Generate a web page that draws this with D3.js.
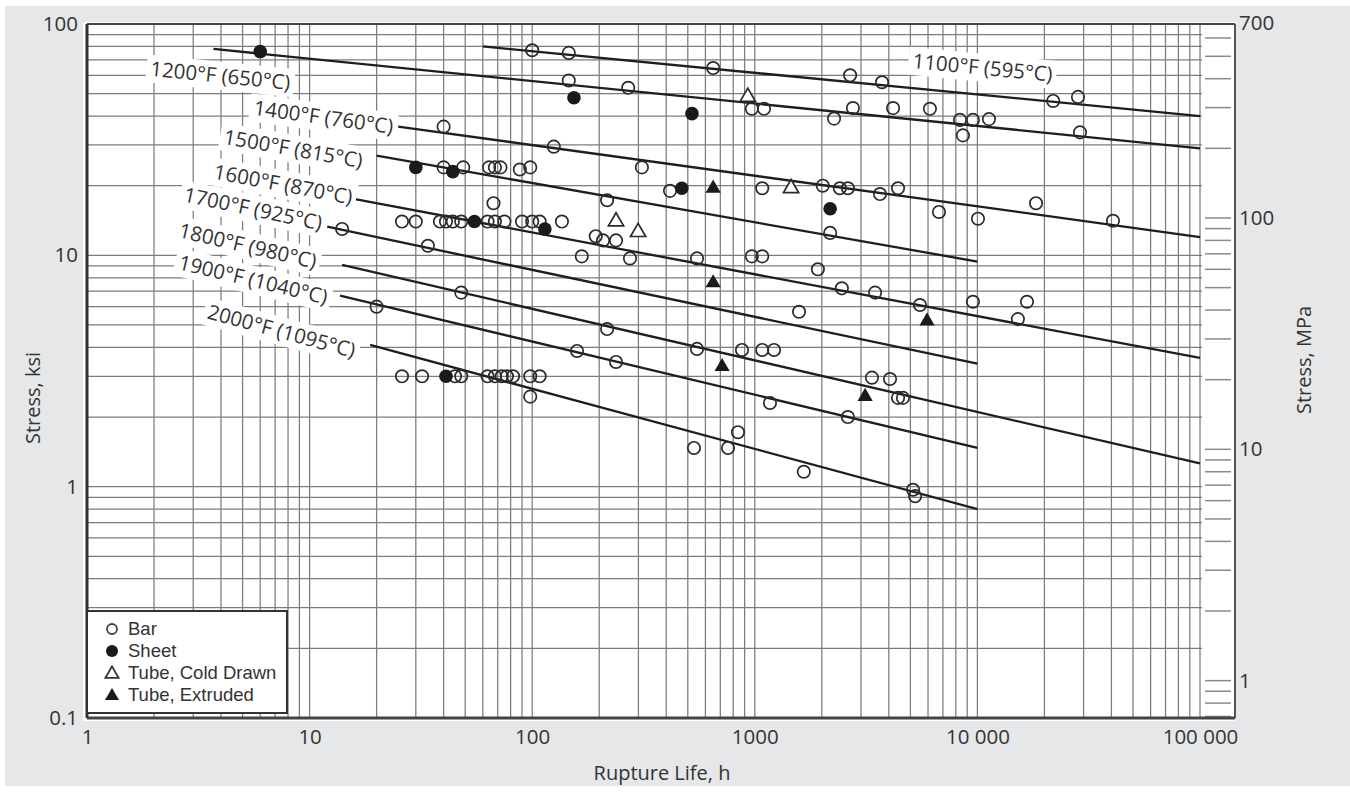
<!DOCTYPE html>
<html lang="en">
<head>
<meta charset="UTF-8">
<title>Stress rupture</title>
<style>
  body { margin: 0; background: #fff; }
  svg text { font-family: "Open Sans", sans-serif; fill: #333; }
</style>
</head>
<body>
<script src="https://d3js.org/d3.v7.min.js"></script>
<script>
// ---- data: rupture life (h) vs stress (ksi) ----
var barHours = [40, 40, 26, 30, 38.5, 41, 44, 48, 14, 34, 20, 26, 32, 45, 48, 63, 68, 73, 77, 82, 98, 108, 98,
    100, 146, 650, 2680, 3730, 21900, 28300, 146, 270, 970, 1100, 2270, 2760, 4180, 6120, 8350, 9550, 11270, 8610, 28900,
    125, 49, 64, 68, 72, 88, 98, 311, 416, 1080, 2020, 2410, 2620, 3650, 4400, 67, 217, 6720, 10060, 18340, 40650,
    63, 68, 75, 90, 100, 108, 136, 193, 208, 238, 2180, 167, 275, 550, 970, 1080, 1920, 2460, 3470, 1580, 48,
    217, 550, 876, 1080, 1220, 159, 238, 3360, 4050, 4400, 4630, 1170, 2620, 840, 533, 758, 1660, 5140, 5250,
    5520, 9550, 16700, 15200];
var barKsi = [36, 24, 14, 14, 14, 14, 14, 14, 13, 11, 6, 3, 3, 3, 3, 3, 3, 3, 3, 3, 3, 3, 2.45,
    77, 75, 64.5, 60, 56, 46.5, 48.4, 57, 53, 43, 43, 39, 43.3, 43.3, 43, 38.5, 38.5, 38.8, 33, 34,
    29.5, 24, 24, 24, 24, 23.5, 24, 24, 19, 19.5, 20, 19.5, 19.5, 18.4, 19.5, 16.8, 17.3, 15.4, 14.4, 16.8, 14.1,
    14, 14, 14, 14, 14, 14, 14, 12.1, 11.6, 11.6, 12.5, 9.9, 9.7, 9.7, 9.9, 9.9, 8.7, 7.2, 6.9, 5.7, 6.9,
    4.8, 3.94, 3.9, 3.9, 3.9, 3.86, 3.46, 2.96, 2.92, 2.42, 2.42, 2.3, 2.0, 1.72, 1.47, 1.47, 1.16, 0.97, 0.91,
    6.1, 6.3, 6.3, 5.3];

var sheetHours = [6, 30, 44, 55, 114, 154, 522, 470, 2180, 41];
var sheetKsi = [76, 24, 23, 14, 13, 48, 41, 19.5, 15.9, 3];

var coldHours = [930, 1455, 238, 299];
var coldKsi = [48.4, 19.5, 14, 12.6];

var extHours = [650, 650, 713, 3130, 5940];
var extKsi = [19.5, 7.6, 3.3, 2.45, 5.2];

// temperature lines: start (h, ksi) -> end (h, ksi)
var tempLabels = ["1100°F (595°C)", "1200°F (650°C)", "1400°F (760°C)", "1500°F (815°C)", "1600°F (870°C)",
    "1700°F (925°C)", "1800°F (980°C)", "1900°F (1040°C)", "2000°F (1095°C)"];
var lineStartH = [60, 3.7, 25, 20, 16, 12, 14, 13.7, 18.7];
var lineStartKsi = [80, 78, 36, 27, 17.5, 13.3, 9.1, 6.7, 4.1];
var lineEndH = [100000, 100000, 100000, 10000, 100000, 10000, 100000, 10000, 10000];
var lineEndKsi = [40, 29, 12, 9.4, 3.6, 3.4, 1.26, 1.47, 0.8];

var xTickLabels = [1, 10, 100, 1000, 10000, 100000];
var yTickLabels = [0.1, 1, 10, 100];
var mpaTickLabels = [1, 10, 100, 700];

// ---- layout ----
var width = 1350, height = 793;
var plotL = 87, plotR = 1200, frameR = 1235, plotT = 24, plotB = 718;

var svg = d3.select("body").append("svg")
    .attr("width", width)
    .attr("height", height);

svg.append("rect").attr("x", 5).attr("y", 6).attr("width", width - 5).attr("height", 780)
    .attr("fill", "#e6e7e8");
svg.append("rect").attr("x", 83).attr("y", 22).attr("width", frameR - 83).attr("height", plotB - 22 + 3)
    .attr("fill", "#fff");

var x = d3.scaleLog().domain([1, 100000]).range([plotL, plotR]);
var y = d3.scaleLog().domain([0.1, 100]).range([plotB, plotT]);
var yMpa = d3.scaleLog().domain([0.1 * 6.895, 100 * 6.895]).range([plotB, plotT]);

// grid
var grid = svg.append("g").attr("stroke", "#7c7c7c").attr("stroke-width", 1.25);
grid.selectAll("line.v").data(x.ticks()).enter().append("line")
    .attr("x1", function (d) { return x(d); }).attr("x2", function (d) { return x(d); })
    .attr("y1", plotT).attr("y2", plotB);
grid.selectAll("line.h").data(y.ticks()).enter().append("line")
    .attr("x1", plotL).attr("x2", plotR + 2)
    .attr("y1", function (d) { return y(d); }).attr("y2", function (d) { return y(d); });

// MPa ticks inside the right strip
var mpaTicks = yMpa.ticks().filter(function (d) { return yMpa(d) > plotT + 3; });
svg.append("g").attr("stroke", "#8a8a8a").attr("stroke-width", 1.5)
    .selectAll("line").data(mpaTicks).enter().append("line")
    .attr("x1", plotR + 5).attr("x2", frameR - 4)
    .attr("y1", function (d) { return yMpa(d); }).attr("y2", function (d) { return yMpa(d); });

// frame
svg.append("line").attr("x1", plotL).attr("x2", frameR).attr("y1", plotT).attr("y2", plotT)
    .attr("stroke", "#444").attr("stroke-width", 2);
svg.append("line").attr("x1", frameR).attr("x2", frameR).attr("y1", plotT).attr("y2", plotB)
    .attr("stroke", "#555").attr("stroke-width", 2);
svg.append("line").attr("x1", plotL).attr("x2", frameR).attr("y1", plotB).attr("y2", plotB)
    .attr("stroke", "#444").attr("stroke-width", 3);
svg.append("line").attr("x1", plotL).attr("x2", plotL).attr("y1", plotT).attr("y2", plotB)
    .attr("stroke", "#333").attr("stroke-width", 3);

// axes labels
var fmt = function (d) { return d >= 10000 ? d3.format(",")(d).replace(/,/g, " ") : String(d); };
var xAxis = svg.append("g").attr("transform", "translate(0," + plotB + ")")
    .call(d3.axisBottom(x).tickValues(xTickLabels).tickSize(0).tickPadding(20).tickFormat(fmt));
var yAxis = svg.append("g").attr("transform", "translate(" + (plotL - 9) + ",0)")
    .call(d3.axisLeft(y).tickValues(yTickLabels).tickSize(0).tickPadding(0).tickFormat(function (d) { return String(d); }));
var rAxis = svg.append("g").attr("transform", "translate(" + (frameR + 4) + ",0)")
    .call(d3.axisRight(yMpa).tickValues(mpaTickLabels).tickSize(0).tickPadding(0).tickFormat(String));
[xAxis, yAxis, rAxis].forEach(function (a) {
    a.select(".domain").remove();
    a.selectAll("text").style("font-size", "20.5px").attr("fill", "#333");
});
xAxis.selectAll("text").attr("dy", "0.3em");

svg.append("text").attr("x", 662).attr("y", 780).attr("text-anchor", "middle")
    .style("font-size", "20px").text("Rupture Life, h");
svg.append("text").attr("transform", "translate(40,398) rotate(-90)").attr("text-anchor", "middle")
    .style("font-size", "20px").text("Stress, ksi");
svg.append("text").attr("transform", "translate(1311,360) rotate(-90)").attr("text-anchor", "middle")
    .style("font-size", "20px").text("Stress, MPa");

// temperature lines
var lines = tempLabels.map(function (t, i) {
    return { t: t, h0: lineStartH[i], s0: lineStartKsi[i], h1: lineEndH[i], s1: lineEndKsi[i] };
});
svg.append("g").selectAll("line").data(lines).enter().append("line")
    .attr("x1", function (d) { return x(d.h0); }).attr("y1", function (d) { return y(d.s0); })
    .attr("x2", function (d) { return x(d.h1); }).attr("y2", function (d) { return y(d.s1); })
    .attr("stroke", "#1e1e1e").attr("stroke-width", 2.3);

// label placement: where along the line, anchor, and pixel nudges
var labelAt = [10270, 4.08, null, null, null, null, null, null, null];
var labelDx = [0, 0, -5, -13, -3, -6, -26, -12, -13];
var labelDy = [-28, 25, 0, 7, -2, -3, 2, 4, 9];

lines.forEach(function (d, i) {
    var ang = Math.atan2(y(d.s1) - y(d.s0), x(d.h1) - x(d.h0));
    var px, py, anchor;
    if (labelAt[i] != null) {
        var f = Math.log10(labelAt[i] / d.h0) / Math.log10(d.h1 / d.h0);
        px = x(labelAt[i]);
        py = y(d.s0) + f * (y(d.s1) - y(d.s0));
        anchor = "middle";
    } else {
        px = x(d.h0);
        py = y(d.s0);
        anchor = "end";
    }
    var g = svg.append("g")
        .attr("transform", "translate(" + px + "," + py + ") rotate(" + (ang * 180 / Math.PI) + ")");
    var bg = g.append("rect").attr("fill", "#fff");
    var txt = g.append("text").attr("x", labelDx[i]).attr("y", labelDy[i])
        .attr("text-anchor", anchor).attr("dominant-baseline", "central")
        .style("font-size", "20.5px").attr("fill", "#222").text(d.t);
    var bb = txt.node().getBBox();
    bg.attr("x", bb.x - 4).attr("y", bb.y + 1).attr("width", bb.width + 8).attr("height", bb.height);
});

// markers
function pts(hs, ks) { return hs.map(function (h, i) { return [h, ks[i]]; }); }
var marks = svg.append("g");
marks.selectAll("circle.bar").data(pts(barHours, barKsi)).enter().append("circle")
    .attr("cx", function (d) { return x(d[0]); }).attr("cy", function (d) { return y(d[1]); })
    .attr("r", 6.2).attr("fill", "none").attr("stroke", "#2a2a2a").attr("stroke-width", 1.7);
marks.selectAll("circle.sheet").data(pts(sheetHours, sheetKsi)).enter().append("circle")
    .attr("cx", function (d) { return x(d[0]); }).attr("cy", function (d) { return y(d[1]); })
    .attr("r", 6.8).attr("fill", "#1a1a1a");
var tri = d3.symbol().type(d3.symbolTriangle).size(100);
marks.selectAll("path.cold").data(pts(coldHours, coldKsi)).enter().append("path")
    .attr("d", tri).attr("transform", function (d) { return "translate(" + x(d[0]) + "," + y(d[1]) + ")"; })
    .attr("fill", "#fff").attr("stroke", "#2a2a2a").attr("stroke-width", 1.7);
marks.selectAll("path.ext").data(pts(extHours, extKsi)).enter().append("path")
    .attr("d", tri).attr("transform", function (d) { return "translate(" + x(d[0]) + "," + y(d[1]) + ")"; })
    .attr("fill", "#1a1a1a");

// legend
var lg = svg.append("g").attr("transform", "translate(" + plotL + ",611)");
lg.append("rect").attr("width", 200).attr("height", 102).attr("fill", "#fff")
    .attr("stroke", "#333").attr("stroke-width", 2);
var legendNames = ["Bar", "Sheet", "Tube, Cold Drawn", "Tube, Extruded"];
legendNames.forEach(function (n, i) {
    var yy = 17 + i * 22;
    if (i === 0) lg.append("circle").attr("cx", 25).attr("cy", yy + 1).attr("r", 5)
        .attr("fill", "#fff").attr("stroke", "#444").attr("stroke-width", 1.8);
    if (i === 1) lg.append("circle").attr("cx", 25).attr("cy", yy + 1).attr("r", 6).attr("fill", "#1a1a1a");
    if (i === 2) lg.append("path").attr("d", d3.symbol().type(d3.symbolTriangle).size(75))
        .attr("transform", "translate(25," + (yy + 2) + ")").attr("fill", "#fff")
        .attr("stroke", "#333").attr("stroke-width", 1.8);
    if (i === 3) lg.append("path").attr("d", d3.symbol().type(d3.symbolTriangle).size(85))
        .attr("transform", "translate(25," + (yy + 2) + ")").attr("fill", "#1a1a1a");
    lg.append("text").attr("x", 41).attr("y", yy).attr("dominant-baseline", "central")
        .style("font-family", "'Liberation Sans', Arial, sans-serif").style("font-size", "18.5px")
        .attr("fill", "#222").text(n);
});
</script>
</body>
</html>
